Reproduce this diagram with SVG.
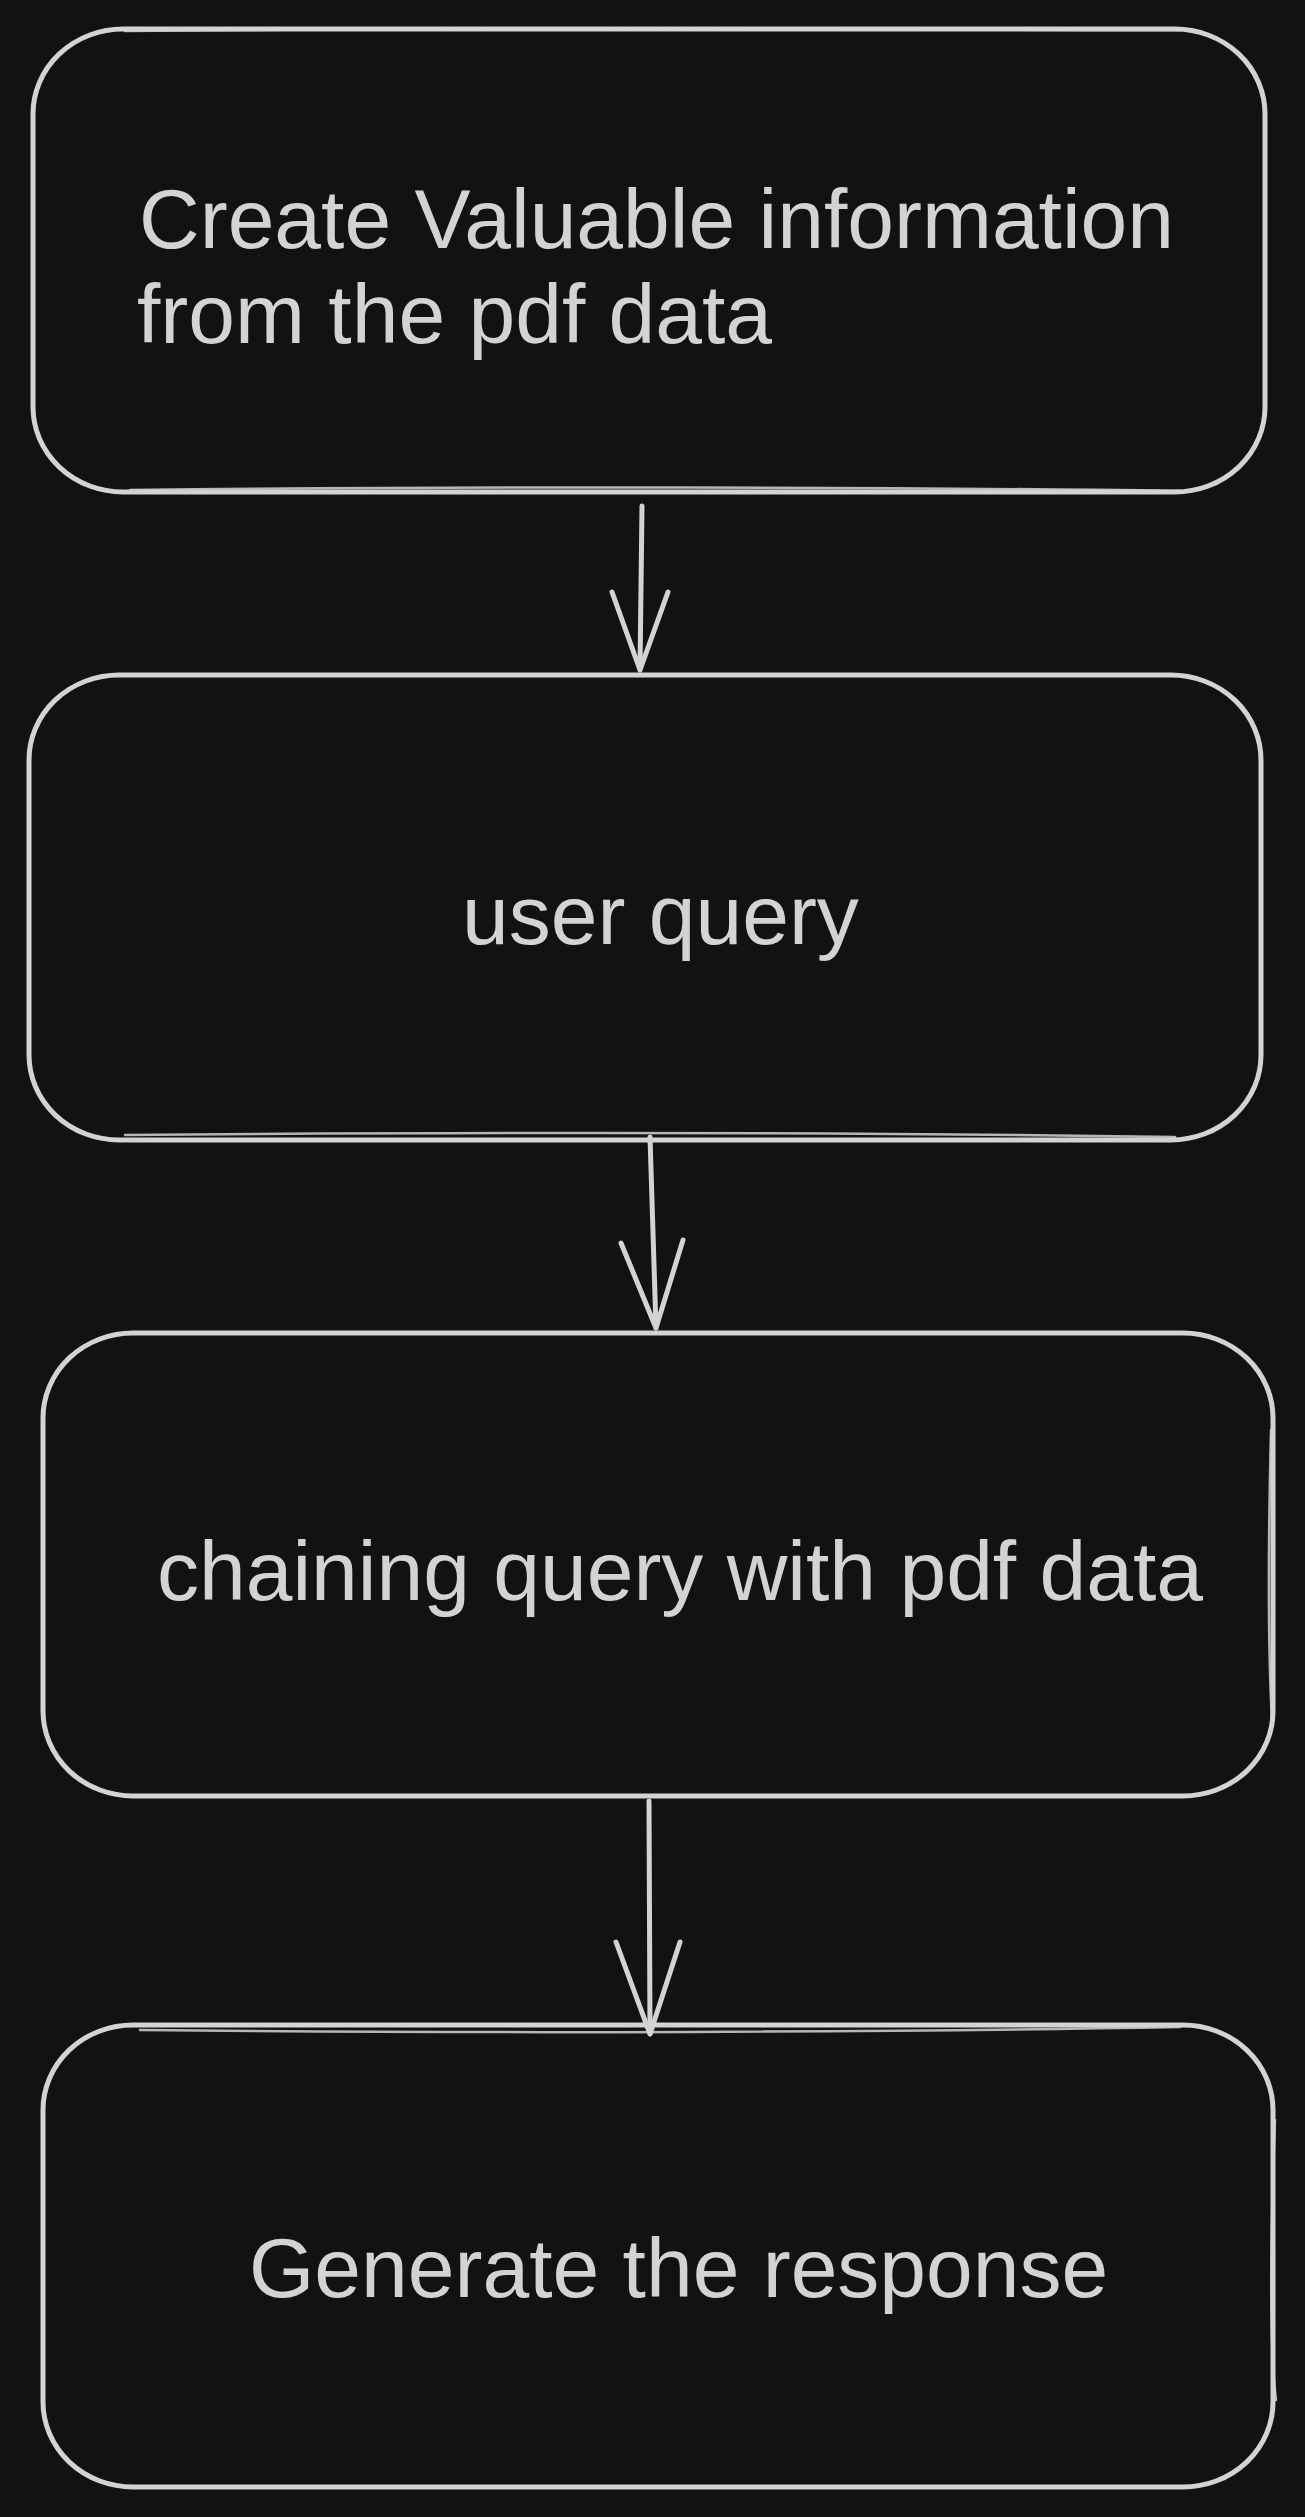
<svg xmlns="http://www.w3.org/2000/svg" width="1305" height="2517" viewBox="0 0 1305 2517">
  <style>
    .box { fill: #121212; stroke: #d3d3d3; stroke-width: 5; stroke-linecap: round; stroke-linejoin: round; }
    .sk { fill: none; stroke: #d3d3d3; stroke-width: 2.5; stroke-linecap: round; opacity: 0.85; }
    .lbl { font-family: "Liberation Sans", Arial, Helvetica, sans-serif; font-size: 84px; fill: #d3d3d3; }
    .edge { fill: none; stroke: #d3d3d3; stroke-width: 5; stroke-linecap: round; stroke-linejoin: round; }
  </style>
  <rect x="0" y="0" width="1305" height="2517" fill="#121212"/>

  <g id="node-create">
    <rect class="box" x="33" y="29" width="1232" height="463" rx="90" ry="85"/>
    <path class="sk" d="M125 31 C 500 27, 900 30, 1180 30"/>
    <path class="sk" d="M130 490 C 500 486, 900 487, 1180 491"/>
    <text class="lbl" x="139" y="248">Create Valuable information</text>
    <text class="lbl" x="137" y="343">from the pdf data</text>
  </g>

  <g id="node-user-query">
    <rect class="box" x="29" y="675" width="1232" height="465" rx="90" ry="85"/>
    <path class="sk" d="M125 1135 C 500 1132, 900 1133, 1175 1137"/>
    <text class="lbl" x="462" y="944">user query</text>
  </g>

  <g id="node-chaining">
    <rect class="box" x="43" y="1333" width="1230" height="463" rx="90" ry="85"/>
    <path class="sk" d="M1271 1430 C 1268 1550, 1268 1650, 1272 1720"/>
    <text class="lbl" x="157" y="1600">chaining query with pdf data</text>
  </g>

  <g id="node-generate">
    <rect class="box" x="43" y="2025" width="1230" height="462" rx="90" ry="85"/>
    <path class="sk" d="M1275 2120 C 1270 2250, 1270 2350, 1276 2400"/>
    <path class="sk" d="M140 2030 C 500 2034, 900 2032, 1180 2027"/>
    <text class="lbl" x="249" y="2297">Generate the response</text>
  </g>

  <g id="connectors">
    <g id="edge-1">
      <path class="edge" d="M642 506 L 640 670"/>
      <path class="edge" d="M612 592 L 640 670 L 668 592"/>
    </g>
    <g id="edge-2">
      <path class="edge" d="M650 1137 L 656 1328"/>
      <path class="edge" d="M621 1243 L 656 1328 L 683 1240"/>
    </g>
    <g id="edge-3">
      <path class="edge" d="M649 1801 L 650 2034"/>
      <path class="edge" d="M616 1942 L 650 2034 L 680 1942"/>
    </g>
  </g>
</svg>
